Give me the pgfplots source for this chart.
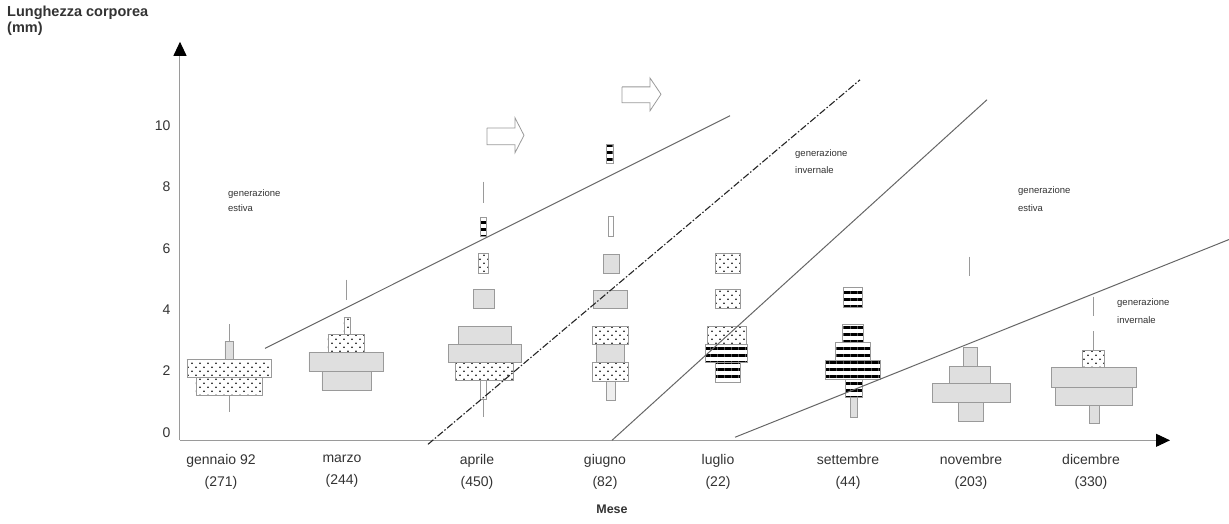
\documentclass[border=0pt]{standalone}
\usepackage{pgfplots}
\pgfplotsset{compat=1.18}
\usepackage{fontspec}
\setmainfont{Liberation Sans}
\usetikzlibrary{arrows.meta,patterns.meta}
\definecolor{boxgray}{HTML}{DFDFDF}
\definecolor{edge}{HTML}{9A9A9A}
\definecolor{txt}{HTML}{333333}
\pgfplotsset{
  dotbox/.style={draw=edge, line width=0.7pt, fill=white,
    postaction={pattern={Dots[distance=8pt,radius=0.85pt]}, pattern color=black},
    postaction={pattern={Dots[distance=8pt,radius=0.85pt,xshift=4pt,yshift=4pt]}, pattern color=black}},
  graybox/.style={draw=edge, line width=0.7pt, fill=boxgray},
  lightbox/.style={draw=edge, line width=0.7pt, fill=boxgray!50},
  whitebox/.style={draw=edge, line width=0.7pt, fill=white},
  stripebox/.style={draw=edge, line width=0.7pt, fill=white,
    postaction={pattern={Lines[angle=0,distance=7pt,line width=2.8pt]}, pattern color=black}},
  vline/.style={draw=edge, line width=1pt},
}
\newcommand{\bx}[5]{\addplot[#5] coordinates {(#1,#3) (#2,#3) (#2,#4) (#1,#4) (#1,#3)};}
\begin{document}
\begin{tikzpicture}
\begin{axis}[
  scale only axis, width=990pt, height=398.5pt,
  xmin=180, xmax=1170, ymin=-0.26, ymax=12.74,
  axis x line=bottom, axis y line=left,
  axis line style={draw=edge, line width=1pt, -{Triangle[length=14pt,width=13pt,color=black]}},
  clip=false,
  major tick length=0pt,
  ytick={0,2,4,6,8,10},
  yticklabels={0,2,4,6,8,10},
  xtick={221,342,477,605,718,848,971,1091},
  xticklabels={{gennaio 92\\[6pt](271)},{marzo\\[6pt](244)},{aprile\\[6pt](450)},{giugno\\[6pt](82)},{luglio\\[6pt](22)},{settembre\\[6pt](44)},{novembre\\[6pt](203)},{dicembre\\[6pt](330)}},
  xticklabel style={align=center, font=\fontsize{14}{16}\selectfont, text=txt, yshift=-11pt},
  yticklabel style={font=\fontsize{14}{16}\selectfont, text=txt, xshift=-6pt},
  /pgf/number format/assume math mode=true,
]
% center whiskers
\addplot[vline] coordinates {(230,3.52) (230,0.65)};
\addplot[vline] coordinates {(347,4.98) (347,4.33)};
\addplot[vline] coordinates {(483,8.18) (483,7.49)};
\addplot[vline] coordinates {(483,1.07) (483,0.49)};
\addplot[vline] coordinates {(969,5.73) (969,5.11)};
\addplot[vline] coordinates {(1093,4.43) (1093,3.81)};
\addplot[vline] coordinates {(1093,3.29) (1093,2.64)};
% gennaio
\bx{225}{233}{2.96}{2.38}{graybox}
\bx{187}{271}{2.38}{1.79}{dotbox}
\bx{196}{262}{1.79}{1.21}{dotbox}
% marzo
\bx{344}{350}{3.75}{3.19}{dotbox}
\bx{328}{364}{3.19}{2.61}{dotbox}
\bx{309}{383}{2.61}{1.99}{graybox}
\bx{322}{371}{1.99}{1.37}{graybox}
% aprile
\bx{480}{486}{7.00}{6.38}{stripebox}
\bx{478}{488}{5.83}{5.18}{dotbox}
\bx{473}{494}{4.66}{4.04}{graybox}
\bx{458}{511}{3.45}{2.87}{graybox}
\bx{448}{521}{2.87}{2.28}{graybox}
\bx{455}{513}{2.28}{1.69}{dotbox}
\bx{480}{486}{1.69}{1.07}{whitebox}
% giugno
\bx{606}{613}{9.38}{8.79}{stripebox}
\bx{608}{613}{7.04}{6.38}{whitebox}
\bx{603}{619}{5.80}{5.18}{graybox}
\bx{593}{627}{4.63}{4.04}{graybox}
\bx{592}{628}{3.45}{2.87}{dotbox}
\bx{596}{624}{2.87}{2.28}{graybox}
\bx{592}{628}{2.28}{1.66}{dotbox}
\bx{606}{615}{1.66}{1.04}{lightbox}
% luglio
\bx{715}{740}{5.83}{5.18}{dotbox}
\bx{715}{740}{4.66}{4.04}{dotbox}
\bx{707}{746}{3.45}{2.87}{dotbox}
\bx{705}{747}{2.87}{2.28}{stripebox}
\bx{715}{740}{2.28}{1.63}{stripebox}
% settembre
\bx{843}{862}{4.72}{4.07}{stripebox}
\bx{842}{863}{3.52}{2.93}{stripebox}
\bx{835}{870}{2.93}{2.35}{stripebox}
\bx{825}{880}{2.35}{1.73}{stripebox}
\bx{845}{862}{1.73}{1.14}{stripebox}
\bx{850}{857}{1.14}{0.49}{graybox}
% novembre
\bx{963}{977}{2.77}{2.15}{graybox}
\bx{949}{990}{2.15}{1.60}{graybox}
\bx{932}{1010}{1.60}{0.98}{graybox}
\bx{958}{983}{0.98}{0.36}{graybox}
% dicembre
\bx{1082}{1104}{2.67}{2.12}{dotbox}
\bx{1051}{1136}{2.12}{1.47}{graybox}
\bx{1055}{1132}{1.47}{0.88}{graybox}
\bx{1089}{1099}{0.88}{0.29}{graybox}
% generation boundaries
\addplot[draw=gray!80!black, line width=1pt] coordinates {(265,2.74) (730,10.33)};
\addplot[draw=black!85, line width=1.1pt, dash pattern=on 7pt off 2pt on 1.5pt off 2pt] coordinates {(428,-0.39) (860,11.50)};
\addplot[draw=gray!80!black, line width=1pt] coordinates {(612,-0.26) (987,10.85)};
\addplot[draw=gray!80!black, line width=1pt] coordinates {(735,-0.16) (1229,6.29)};
% hollow arrows
\addplot[draw=edge, line width=0.8pt, fill=white] coordinates {(487,9.93) (515,9.93) (515,10.26) (524,9.69) (515,9.12) (515,9.38) (487,9.38) (487,9.93)};
\addplot[draw=edge, line width=0.8pt, fill=white] coordinates {(622,11.27) (650,11.27) (650,11.56) (661,11.03) (650,10.49) (650,10.75) (622,10.75) (622,11.27)};
% annotations
\node[anchor=west, align=left, text=txt, font=\fontsize{9.5}{15}\selectfont, inner sep=0pt] at (axis cs:228,7.55) {generazione\\estiva};
\node[anchor=west, align=left, text=txt, font=\fontsize{9.5}{17}\selectfont, inner sep=0pt] at (axis cs:795,8.83) {generazione\\invernale};
\node[anchor=west, align=left, text=txt, font=\fontsize{9.5}{18}\selectfont, inner sep=0pt] at (axis cs:1018,7.6) {generazione\\estiva};
\node[anchor=west, align=left, text=txt, font=\fontsize{9.5}{18}\selectfont, inner sep=0pt] at (axis cs:1117,3.95) {generazione\\invernale};
\node[anchor=north west, align=left, text=txt, font=\bfseries\fontsize{14.5}{16}\selectfont, inner sep=0pt] at (axis cs:7,13.92) {Lunghezza corporea\\(mm)};
\node[text=txt, font=\bfseries\fontsize{12.5}{14}\selectfont, inner sep=0pt] at (axis cs:612,-2.5) {Mese};
\coordinate (BL) at (axis cs:0,-2.964);
\coordinate (TR) at (axis cs:1229,14.104);
\end{axis}
\pgfresetboundingbox
\path[use as bounding box] (BL) rectangle (TR);
\end{tikzpicture}
\end{document}
